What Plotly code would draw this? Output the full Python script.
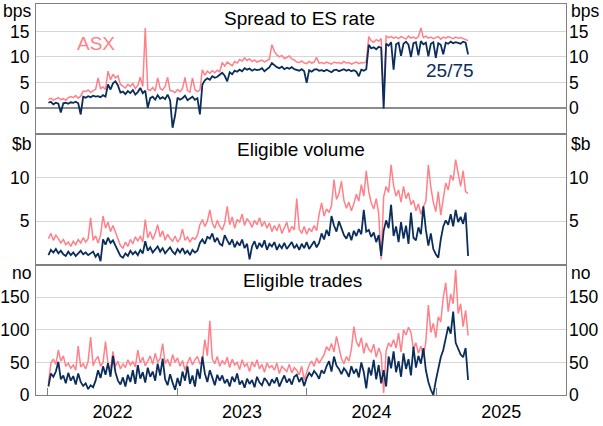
import pandas as pd
import plotly.graph_objects as go

## DATA (weekly readings, Jan 2022 - Mar 2025)

dates = pd.date_range("2022-01-03", periods=170, freq="7D")

spread_asx = [
    1.6, 1.9, 1.5, 1.7, 2.0, 1.6, 1.8, 1.5, 2.0, 2.2,
    2.0, 2.4, 1.9, 2.3, 3.3, 3.2, 3.5, 3.0, 3.4, 3.6,
    5.9, 3.8, 4.1, 3.6, 7.2, 5.5, 6.6, 5.9, 6.3, 4.6,
    4.3, 3.9, 4.6, 4.2, 4.8, 3.8, 4.4, 6.0, 4.2, 15.7,
    3.6, 3.4, 4.0, 3.3, 5.9, 3.8, 3.5, 4.2, 6.0, 3.4,
    3.3, 3.0, 3.6, 3.2, 3.8, 6.0, 3.4, 3.1, 5.9, 3.6,
    3.2, 3.5, 7.5, 6.4, 7.2, 6.8, 7.3, 6.9, 7.4, 7.1,
    8.9, 8.2, 9.0, 8.6, 8.3, 9.1, 8.8, 9.5, 9.2, 9.8,
    9.3, 9.6, 9.1, 9.4, 9.0, 9.2, 9.4, 9.0, 9.3, 9.6,
    12.4, 11.1, 10.4, 10.0, 10.3, 9.7, 9.9, 10.2, 9.6, 9.4,
    9.0, 8.9, 9.2, 8.8, 8.7, 9.1, 8.8, 9.0, 9.9, 8.8,
    8.9, 8.7, 9.0, 8.8, 8.6, 9.0, 8.8, 8.9, 8.7, 9.1,
    8.8, 8.9, 8.6, 8.8, 9.0, 8.7, 8.9, 8.8, 9.1, 14.0,
    13.2, 12.9, 13.4, 13.1, 13.6, 1.3, 14.1, 13.8, 14.0, 13.7,
    13.9, 13.6, 14.0, 13.8, 13.5, 14.1, 13.7, 13.9, 13.6, 14.0,
    15.7, 13.8, 14.1, 13.7, 13.9, 13.6, 13.8, 14.0, 13.5, 13.9,
    13.7, 14.0, 13.8, 13.6, 13.9, 13.7, 13.8, 13.6, 13.5, 13.2,
]
spread_2575 = [
    1.0, 1.2, 0.7, 1.0, 0.8, -0.9, 0.9, 1.0, 0.8, 1.1,
    1.0, 1.2, 0.9, -1.3, 2.2, 2.0, 2.3, 2.1, 2.4, 2.2,
    2.3, 2.1, 2.5, 2.2, 4.6, 3.6, 4.8, 5.2, 4.4, 3.0,
    3.2, 2.7, 3.3, 2.9, 3.5, 2.6, 3.1, 3.9, 2.9, 3.4,
    0.0, 1.9, 2.2, 1.6, 2.5, 1.8, 2.1, 1.7, 2.6, 1.5,
    -3.9, -1.5, 2.0, 1.6, 1.9, 2.4, 1.5, 1.8, 2.2, 1.6,
    1.9, -1.3, 4.6, 5.4, 5.8, 5.5, 6.2, 5.9, 6.1, 6.5,
    6.9, 6.3, 5.2, 7.0, 6.6, 7.3, 7.1, 7.5, 7.2, 7.8,
    7.5, 7.7, 7.3, 7.6, 7.4, 7.5, 7.8, 7.2, 7.6, 8.0,
    8.8, 8.3, 8.0, 7.8, 8.1, 7.6, 7.9, 7.7, 8.0, 7.6,
    7.4, 7.3, 7.6, 7.2, 4.9, 7.4, 7.1, 7.5, 7.6, 7.3,
    7.4, 7.2, 7.5, 7.3, 7.0, 7.4, 7.5, 7.2, 7.4, 7.6,
    7.3, 7.5, 7.2, 7.4, 7.1, 6.2, 7.5, 7.3, 7.6, 12.4,
    11.7, 11.9, 11.5, 12.0, 11.8, -0.1, 12.6, 12.2, 12.9, 7.5,
    12.5, 12.8, 10.2, 12.6, 13.0, 12.4, 10.0, 12.7, 12.9, 10.3,
    13.1, 12.5, 12.8, 10.1, 12.6, 12.9, 9.8, 12.7, 12.4, 10.5,
    12.8, 12.6, 13.0, 12.7, 12.9, 12.8, 12.6, 13.0, 12.8, 10.5,
]
volume_asx = [
    3.0, 3.6, 2.8, 3.4, 3.0, 2.5, 2.9, 2.3, 2.6, 2.1,
    2.7, 2.3, 2.9, 2.5, 3.1, 2.6, 3.0, 5.4, 2.8, 3.3,
    2.5, 3.4, 5.6, 4.2, 4.9, 3.8, 4.5, 3.7, 2.8, 2.2,
    1.9, 2.6, 2.1, 2.9, 2.4, 3.2, 2.7, 3.3, 2.6, 5.2,
    3.1, 3.8, 2.9, 3.6, 4.6, 3.2, 3.9, 2.8, 3.5, 3.0,
    2.7, 3.3, 2.6, 3.0, 4.1, 2.8, 3.2, 2.6, 3.1, 2.9,
    3.4, 4.6, 5.2, 4.4, 5.0, 6.3, 4.8, 4.2, 5.1, 4.4,
    4.0, 4.8, 6.7, 4.6, 5.5, 4.2, 5.2, 4.9, 5.8, 4.5,
    5.3, 4.9, 4.3, 5.1, 4.6, 5.4, 4.4, 5.0, 4.2, 4.8,
    3.8, 4.5, 3.9, 4.7, 3.6, 4.3, 4.9, 3.7, 4.4, 4.0,
    7.6, 4.1, 3.6, 4.4, 3.5, 4.2, 3.8, 4.5, 3.9, 5.8,
    7.1, 5.6, 6.4, 6.0, 6.8, 9.8, 7.5, 8.2, 9.6, 7.4,
    6.5, 7.2, 6.2, 7.0, 8.1, 7.3, 9.2, 7.9, 10.8, 8.4,
    7.1, 6.4, 7.6, 5.9, 0.6, 7.8, 9.0, 8.3, 11.5, 9.1,
    7.9, 8.6, 7.2, 9.0, 7.6, 8.3, 6.9, 7.4, 6.2, 7.0,
    5.8, 6.7, 7.3, 11.5, 8.9, 7.2, 6.1, 8.4, 5.7, 7.6,
    9.4, 8.6, 10.3, 9.7, 12.1, 10.5, 9.0, 10.8, 8.4, 8.2,
]
volume_2575 = [
    1.1, 1.7, 1.4, 1.8, 1.3, 1.6, 1.2, 1.0, 1.5, 1.1,
    1.4, 1.0, 1.3, 1.6, 1.2, 1.4, 1.1, 1.3, 1.5, 0.9,
    1.3, 0.4, 2.9, 2.3, 3.1, 2.5, 2.8, 2.2, 1.5, 1.0,
    0.8, 1.3, 1.0, 1.6, 1.2, 1.5, 1.1, 1.7, 1.3, 2.7,
    1.6, 2.0, 1.4, 1.8, 2.1, 1.5, 1.9, 1.3, 1.7, 2.0,
    1.5, 1.2, 1.8, 1.4, 1.9, 1.3, 1.6, 1.1, 1.7, 1.4,
    1.6, 2.5, 2.9, 2.4, 3.2, 3.0, 3.6, 2.6, 3.1, 2.4,
    2.2, 3.4, 2.8, 2.3, 2.9, 2.0, 2.6, 2.2, 2.9, 1.9,
    2.4, 0.6, 2.1, 2.7, 1.8, 2.5, 2.0, 2.8, 1.7, 2.4,
    2.1, 2.6, 1.7, 2.3, 1.9, 2.5, 1.8, 2.2, 2.6, 1.9,
    2.3, 1.7, 2.4, 1.9, 2.6, 1.8, 2.2, 2.7, 2.0, 2.5,
    3.6, 2.9, 4.0, 3.3, 5.6, 4.5, 3.8, 5.0, 4.2, 3.4,
    3.0, 3.7, 2.8, 3.9, 3.3, 4.1, 3.5, 6.3, 3.8, 4.0,
    3.2, 3.7, 2.6, 3.4, 1.0, 3.9, 5.1, 4.2, 6.9, 3.3,
    4.4, 2.6, 4.9, 3.0, 4.5, 2.4, 6.0, 3.1, 2.8, 4.3,
    3.5, 6.7, 4.0, 2.2, 3.6, 1.8, 1.2, 0.8, 2.9, 4.4,
    5.1, 4.6, 5.8, 4.4, 6.3, 4.9, 5.5, 4.7, 6.0, 1.0,
]
trades_asx = [
    18, 49, 55, 47, 69, 52, 60, 44, 49, 41,
    46, 38, 75, 43, 48, 40, 52, 89, 45, 54,
    59, 44, 50, 82, 47, 38, 67, 44, 52, 40,
    48, 42, 54, 46, 51, 43, 69, 49, 58, 45,
    52, 60, 47, 64, 50, 56, 79, 48, 55, 44,
    62, 50, 57, 44, 53, 38, 49, 58, 46, 54,
    59, 48, 52, 85, 60, 114, 55, 48, 59, 44,
    53, 47, 58, 42, 55, 46, 50, 39, 54, 44,
    48, 36, 51, 43, 54, 40, 47, 35, 49, 42,
    45, 38, 49, 33, 44, 40, 36, 47, 34, 42,
    38, 31, 44, 23, 36, 46, 52, 44, 57, 49,
    55, 62, 74, 68, 79, 66, 90, 72, 56, 48,
    59, 52, 70, 105, 82, 74, 88, 64, 80, 70,
    66, 78, 58, 72, 62, 3, 68, 80, 74, 85,
    72, 95, 66, 100, 92, 104, 96, 70, 80, 64,
    75, 58, 82, 138, 96, 110, 88, 120, 112, 150,
    172, 128, 155, 140, 192, 125, 140, 105, 130, 91,
]
trades_2575 = [
    13, 33, 28, 36, 51, 24, 30, 18, 34, 22,
    29, 16, 33, 20, 14, 18, 9, 15, 12, 22,
    38, 26, 44, 31, 49, 28, 60, 35, 22, 16,
    27, 13, 31, 20, 38, 17, 46, 25, 35, 19,
    42, 28, 36, 22, 48, 30, 56, 24, 15, 32,
    19, 8, 26, 14, 36, 22, 44, 17, 30, 13,
    40, 25, 59, 33, 20, 38, 27, 15, 31, 22,
    30, 18, 24, 13, 28, 20, 33, 16, 22, 11,
    25, 17, 23, 12, 28, 19, 15, 26, 21, 14,
    24, 18, 27, 13, 22, 30, 19, 25, 16, 28,
    31, 20, 27, 14, 26, 34, 29, 37, 32, 25,
    38, 33, 44, 52, 36, 59, 45, 40, 32, 41,
    36, 28, 44, 33, 40, 27, 50, 35, 10, 42,
    30, 54, 24, 46, 18, 38, 13, 59, 41, 67,
    35, 52, 28, 64, 40, 55, 30, 74, 42, 60,
    48, 72, 38, 20, 8, 0, 22, 40, 58, 69,
    88, 105, 94, 128, 80, 70, 62, 58, 72, 23,
]

## STYLE

PINK = "#ff8089"
NAVY = "#0b2d5b"
FRAME = "#808080"
GRID = "#d6d6d6"
FONT = "Liberation Sans, Arial, sans-serif"

fig = go.Figure()

# ASX first, 25/75 on top, one pair of lines per panel
panels = [
    ("x", "y", spread_asx, spread_2575),
    ("x2", "y2", volume_asx, volume_2575),
    ("x3", "y3", trades_asx, trades_2575),
]
for xa, ya, asx, mid in panels:
    fig.add_trace(go.Scatter(x=dates, y=asx, xaxis=xa, yaxis=ya, mode="lines",
                             line=dict(color=PINK, width=1.5), hoverinfo="skip"))
    fig.add_trace(go.Scatter(x=dates, y=mid, xaxis=xa, yaxis=ya, mode="lines",
                             line=dict(color=NAVY, width=1.8), hoverinfo="skip"))

# invisible traces so the right-hand axes get drawn
for xa, ya in [("x", "y4"), ("x2", "y5"), ("x3", "y6")]:
    fig.add_trace(go.Scatter(x=[dates[0]], y=[None], xaxis=xa, yaxis=ya,
                             mode="markers", marker=dict(opacity=0), hoverinfo="skip"))

x_range = ["2021-11-29", "2026-01-01"]
xbase = dict(range=x_range, type="date", showgrid=False, zeroline=False,
             showline=True, linecolor=FRAME, linewidth=1.2, mirror=True,
             ticks="", showticklabels=False)

ranges = [[-5.2, 20.4], [0, 15], [0, 200]]
ticks = [[0, 5, 10, 15], [5, 10], [0, 50, 100, 150]]
domains = [[2 / 3, 1], [1 / 3, 2 / 3], [0, 1 / 3]]

layout = dict(
    width=603, height=426,
    margin=dict(l=36, r=37, t=4, b=31),
    paper_bgcolor="white", plot_bgcolor="white",
    showlegend=False,
    font=dict(family=FONT, size=18, color="black"),
)

for i in range(3):
    n = "" if i == 0 else str(i + 1)
    layout["xaxis" + n] = dict(xbase, anchor="y" + n, matches="x3" if i < 2 else None)
    layout["yaxis" + n] = dict(domain=domains[i], range=ranges[i], anchor="x" + n,
                              tickvals=ticks[i], showgrid=True, gridcolor=GRID, gridwidth=1,
                              zeroline=(i == 0), zerolinecolor="#8c8c8c", zerolinewidth=1.5,
                              showline=True, linecolor=FRAME, linewidth=1.2, mirror=True,
                              ticks="", ticklabelstandoff=2, automargin=False,
                              tickfont=dict(size=17.5))
    layout["yaxis" + str(i + 4)] = dict(overlaying="y" + n, anchor="x" + n, side="right",
                                        range=ranges[i], tickvals=ticks[i], showgrid=False,
                                        zeroline=False, showline=False, ticks="",
                                        ticklabelstandoff=2, automargin=False,
                                        tickfont=dict(size=17.5))

# bottom axis: year labels centred on the year, ticks on the boundaries
layout["xaxis3"].update(showticklabels=True, ticks="inside", ticklen=7, tickcolor=FRAME,
                        tickwidth=1, dtick="M12", tick0="2022-01-01", tickformat="%Y",
                        ticklabelmode="period", automargin=False, tickfont=dict(size=18))

fig.update_layout(layout)

# units, panel titles and series labels
def note(text, x, y, anchor="center", color="black", size=17.5):
    fig.add_annotation(text=text, x=x, y=y, xref="paper", yref="paper", showarrow=False,
                       xanchor=anchor, yanchor="middle", font=dict(size=size, color=color))

for unit, y in [("bps", 0.982), ("$b", 0.643), ("no", 0.312)]:
    note(unit, -0.006, y, anchor="right")
    note(unit, 1.006, y, anchor="left")

note("Spread to ES rate", 0.498, 0.964, size=19)
note("Eligible volume", 0.5, 0.627, size=19)
note("Eligible trades", 0.502, 0.292, size=19)
note("ASX", 0.113, 0.898, color=PINK, size=19)
note("25/75", 0.782, 0.829, color=NAVY, size=19)

# page body has a default 8px margin; drop it so the figure fills the window
fig.write_html("out.html", config={"displayModeBar": False},
               post_script="document.body.style.margin='0px';")
